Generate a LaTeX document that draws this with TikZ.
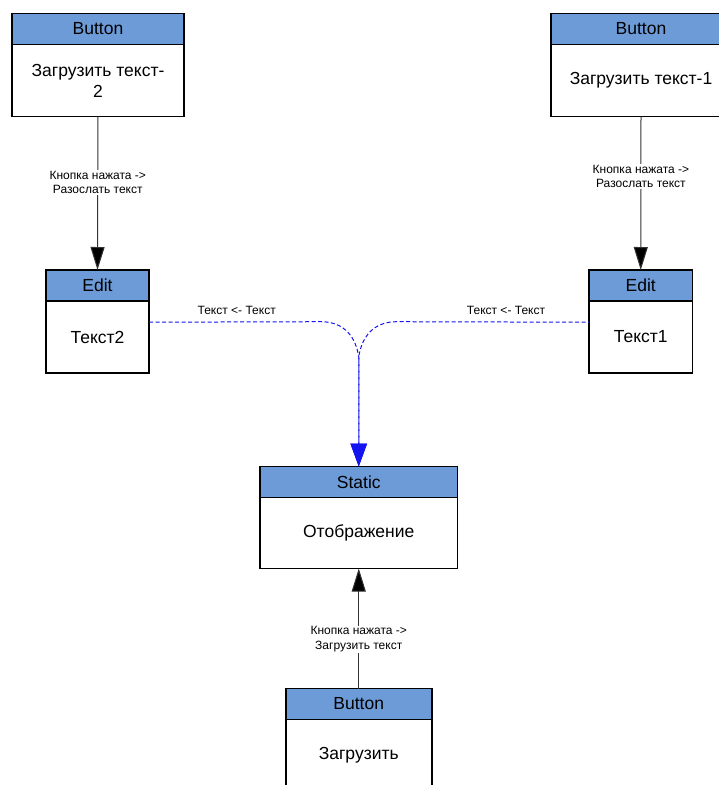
\documentclass[tikz,border=0pt]{standalone}
\usepackage{fontspec}
\setmainfont{Liberation Sans}
\usetikzlibrary{arrows.meta}
\definecolor{hdrblue}{RGB}{108,155,216}
\definecolor{wire}{RGB}{50,50,50}
\definecolor{sigblue}{RGB}{20,20,240}
\begin{document}
\begin{tikzpicture}[x=1pt,y=-1pt,
  boxtext/.style={font=\fontsize{17.5}{21}\selectfont},
  hdr/.style={draw=black, line width=1.8pt, fill=hdrblue, minimum height=31pt,
    inner sep=0pt, outer sep=0pt, anchor=north, boxtext},
  bodybox/.style={draw=black, line width=1.8pt, fill=white, minimum height=72pt,
    inner sep=0pt, outer sep=0pt, anchor=north, align=center, boxtext},
  lbl/.style={font=\fontsize{12}{14.5}\selectfont, fill=white, inner sep=1pt, align=center},
  call/.style={draw=wire, line width=1pt, -{Triangle[width=14pt,length=23pt,fill=black]}},
  sig/.style={draw=sigblue, line width=1pt, dash pattern=on 4pt off 2.5pt,
    -{Triangle[width=16.5pt,length=23pt,fill=sigblue]}},
  siglbl/.style={font=\fontsize{12}{14.5}\selectfont, inner sep=0pt}
]
\useasboundingbox (0,0) rectangle (719,785);
\clip (0,0) rectangle (719,785);

% Button: load text 2
\node[hdr, minimum width=172pt] (b2h) at (98,13.5) {Button};
\node[bodybox, minimum width=172pt] (b2) at (b2h.south) {Загрузить текст-\\2};

% Button: load text 1
\node[hdr, minimum width=180pt] (b1h) at (641,13.5) {Button};
\node[bodybox, minimum width=180pt] (b1) at (b1h.south) {Загрузить текст-1};

% Edit fields
\node[hdr, minimum width=103pt] (e2h) at (97.5,270) {Edit};
\node[bodybox, minimum width=103pt] (e2) at (e2h.south) {Текст2};

\node[hdr, minimum width=103.5pt] (e1h) at (640.75,270) {Edit};
\node[bodybox, minimum width=103.5pt] (e1) at (e1h.south) {Текст1};

% Static display
\node[hdr, minimum width=197.5pt] (sh) at (358.75,466.5) {Static};
\node[bodybox, minimum width=197.5pt, minimum height=71pt] (s) at (sh.south) {Отображение};

% Button: load
\node[hdr, minimum width=146pt] (b3h) at (358.75,688.5) {Button};
\node[bodybox, minimum width=146pt] (b3) at (b3h.south) {Загрузить};

% Button -> Edit connections
\draw[call] (b2.south) -- node[lbl, pos=0.43] {Кнопка нажата ->\\Разослать текст} (e2h.north);
\draw[call] (b1.south) -- node[lbl, pos=0.39] {Кнопка нажата ->\\ Разослать текст} (e1h.north);

% Button -> Static connection
\draw[call] (b3h.north) -- node[lbl, pos=0.41] {Кнопка нажата ->\\ Загрузить текст} (s.south);

% Text signals from both edits merging into the static
\coordinate (j) at (358.75,357);
\coordinate (lt) at (321,321.7);
\coordinate (rt) at (396.5,321.7);
\draw[sig] ([yshift=14.8pt]e2.east) -- (lt) .. controls (345,321.7) and (356,338) .. (j) -- (sh.north);
\draw[sig, dash phase=3pt] ([yshift=14.8pt]e1.west) -- (rt) .. controls (372.5,321.7) and (361.5,338) .. (j) -- (sh.north);
\node[siglbl] (l2) at (236.7,310) {Текст <- Текст};
\node[siglbl] (l1) at (506,310) {Текст <- Текст};
\end{tikzpicture}
\end{document}
